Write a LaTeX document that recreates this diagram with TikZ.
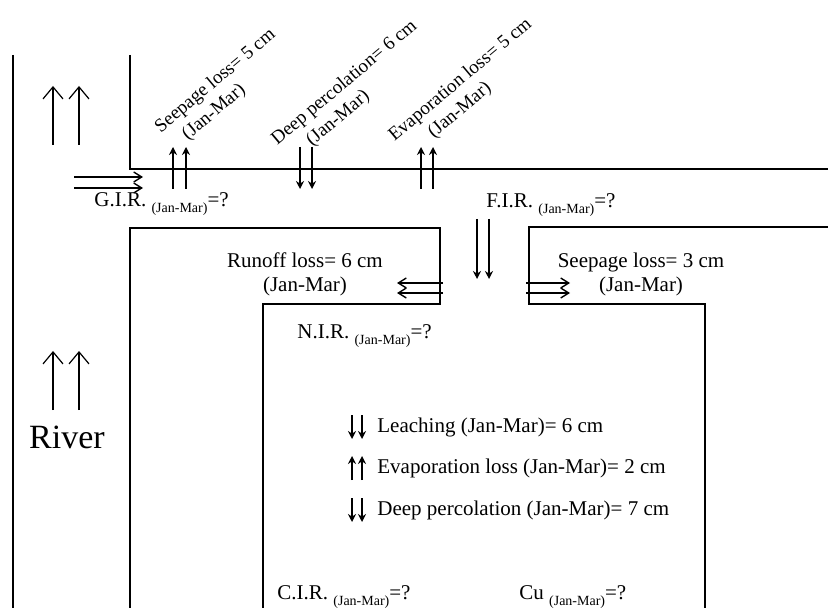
\documentclass[tikz,border=0pt]{standalone}
\usepackage{fontspec}
\setmainfont{Liberation Serif}
\usetikzlibrary{arrows.meta}
\newcommand{\jm}{\raisebox{-3pt}{\scriptsize (Jan-Mar)}}

\begin{document}
\begin{tikzpicture}[x=0.5pt,y=-0.5pt,
    bank/.style={line width=0.9pt},
    flow/.style={line width=0.9pt,-{Stealth[length=4pt,width=4pt]}},
    barb/.style={line width=0.7pt,-{Straight Barb[length=4pt,width=5pt]}},
    stream/.style={line width=0.6pt,-{Straight Barb[length=6pt,width=10pt]}},
    lbl/.style={font=\fontsize{10.5}{12}\selectfont,inner sep=1pt},
    slant/.style={font=\fontsize{9.5}{11.5}\selectfont,inner sep=1pt,rotate=40,align=left}]
    \useasboundingbox (0,0) rectangle (828,608);
    % river, main channel and field
    \draw[bank] (13,55) -- (13,608);
    \draw[bank] (130,55) -- (130,169) -- (828,169);
    \draw[bank] (130,608) -- (130,228) -- (440,228) -- (440,304) -- (263,304) -- (263,608);
    \draw[bank] (828,227) -- (529,227) -- (529,304) -- (705,304) -- (705,608);
    % river flow
    \foreach \x in {53,79}{
        \draw[stream] (\x,145) -- (\x,86);
        \draw[stream] (\x,410) -- (\x,351);
    }
    \node[font=\fontsize{17}{19}\selectfont] (river) at (67,437) {River};
    % inflow and channel losses
    \foreach \y in {177,188} \draw[barb] (74,\y) -- (143,\y);
    \node[lbl,anchor=west] (gir) at (92,204) {G.I.R. \jm=?};
    \foreach \x in {173,186,421,433} \draw[flow] (\x,189) -- (\x,147);
    \foreach \x in {300,312} \draw[flow] (\x,147) -- (\x,189);
    \node[slant] (seep) at (223,90) {Seepage loss= 5 cm\\\hspace*{8pt}(Jan-Mar)};
    \node[slant] (perc) at (352,92) {Deep percolation= 6 cm\\\hspace*{13pt}(Jan-Mar)};
    \node[slant] (evap) at (468,89) {Evaporation loss= 5 cm\\\hspace*{16pt}(Jan-Mar)};
    % field channel
    \node[lbl,anchor=west] (fir) at (484,205) {F.I.R. \jm=?};
    \foreach \x in {477,489} \draw[flow] (\x,219) -- (\x,279);
    \foreach \y in {283,293}{
        \draw[barb] (443,\y) -- (397,\y);
        \draw[barb] (526,\y) -- (570,\y);
    }
    \node[lbl,align=center] (runoff) at (305,274) {Runoff loss= 6 cm\\(Jan-Mar)};
    \node[lbl,align=center] (seepf) at (641,274) {Seepage loss= 3 cm\\(Jan-Mar)};
    % field balance
    \node[lbl,anchor=west] (nir) at (295,336) {N.I.R. \jm=?};
    \foreach \y/\d/\t in {427/-1/{Leaching (Jan-Mar)= 6 cm},468/1/{Evaporation loss (Jan-Mar)= 2 cm},510/-1/{Deep percolation (Jan-Mar)= 7 cm}}{
        \node[lbl,anchor=west] (row\y) at (375,\y) {\t};
        \foreach \x in {352,362} \draw[flow,line width=0.8pt] (\x,{\y+12*\d}) -- (\x,{\y-12*\d});
    }
    \node[lbl,anchor=west] (cir) at (275,597) {C.I.R. \jm=?};
    \node[lbl,anchor=west] (cu) at (517,597) {Cu \jm=?};
\end{tikzpicture}
\end{document}
